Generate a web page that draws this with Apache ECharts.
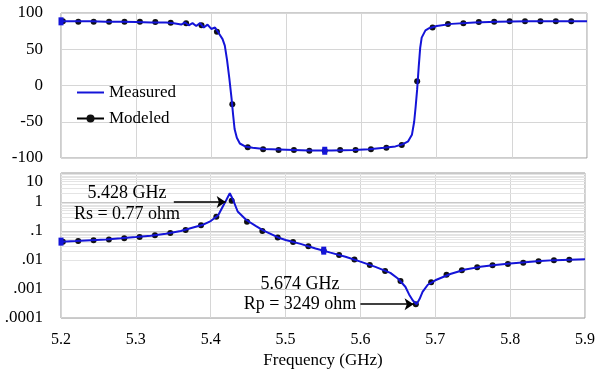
<!DOCTYPE html>
<html lang="en">
<head>
    <meta charset="UTF-8">
    <title>Impedance</title>
    <script src="https://cdn.jsdelivr.net/npm/echarts@6/dist/echarts.min.js"></script>
    <style>
        html, body { margin: 0; padding: 0; background: #fff; }
        #main { width: 598px; height: 374px; }
    </style>
</head>
<body>
<div id="main"></div>
<script type="text/javascript">
    // measured phase (deg)
    var measFreqPhase = [5.2, 5.22, 5.24, 5.26, 5.28, 5.3, 5.32, 5.34, 5.35, 5.36, 5.365, 5.37, 5.375, 5.38, 5.385, 5.39, 5.395, 5.4, 5.405, 5.41,
        5.415, 5.418, 5.421, 5.424, 5.427, 5.429, 5.431, 5.434, 5.438, 5.445, 5.455, 5.47, 5.5, 5.53, 5.56, 5.59, 5.61, 5.63, 5.645, 5.655,
        5.662, 5.667, 5.67, 5.672, 5.674, 5.676, 5.678, 5.68, 5.685, 5.69, 5.7, 5.72, 5.75, 5.78, 5.82, 5.86, 5.9];
    var measPhase = [88.5, 88.5, 88.5, 88, 88, 87.5, 87, 87, 86, 84, 87, 83, 86, 82, 86, 80, 84, 78, 80, 72,
        64, 55, 35, 10, -18, -40, -60, -72, -80, -84, -86, -87.5, -88.5, -89.5, -89.5, -89, -88, -86, -84, -81,
        -77, -68, -50, -29, -5, 25, 52, 66, 76, 79, 82, 85, 87, 88, 88.5, 88.5, 88.5];

    // measured |Z| (ohm, log axis)
    var measFreqMag = [5.2, 5.22, 5.24, 5.26, 5.28, 5.3, 5.32, 5.34, 5.36, 5.38, 5.39, 5.4, 5.41, 5.416, 5.421, 5.4255, 5.43, 5.436, 5.4476, 5.46,
        5.47, 5.48, 5.49, 5.5, 5.52, 5.54, 5.56, 5.58, 5.6, 5.62, 5.64, 5.65, 5.66, 5.665, 5.67, 5.675, 5.679, 5.683, 5.69, 5.7,
        5.72, 5.74, 5.76, 5.78, 5.8, 5.82, 5.84, 5.86, 5.88, 5.9];
    var measMag = [0.043, 0.045, 0.048, 0.051, 0.056, 0.062, 0.069, 0.08, 0.1, 0.14, 0.165, 0.22, 0.35, 0.69, 1.2, 2.0, 1.17, 0.47, 0.24, 0.15,
        0.105, 0.08, 0.06, 0.049, 0.036, 0.025, 0.018, 0.013, 0.0088, 0.0058, 0.0036, 0.0023, 0.0012, 0.00065, 0.0004, 0.0003, 0.00045, 0.0008, 0.0014, 0.002,
        0.0033, 0.0047, 0.0058, 0.0067, 0.0076, 0.0083, 0.0092, 0.0099, 0.0103, 0.0107];

    // modeled points
    var modelFreq = [5.2025, 5.223, 5.2435, 5.264, 5.2845, 5.305, 5.3255, 5.346, 5.3665, 5.387, 5.4075, 5.428, 5.4485, 5.469, 5.4895, 5.51, 5.5305,
        5.551, 5.5715, 5.592, 5.6125, 5.633, 5.6535, 5.674, 5.6945, 5.715, 5.7355, 5.756, 5.7765, 5.797, 5.8175, 5.838, 5.8585, 5.879];
    var modelPhase = [88.5, 88, 88, 88, 88, 88, 87.5, 86.5, 86, 83, 74, -26, -85, -88, -89, -89, -90,
        -90, -89, -89, -88, -86, -82, 6, 80, 85, 86, 87.5, 88, 88.5, 88.5, 88.5, 88.5, 88.5];
    var modelMag = [0.043, 0.045, 0.048, 0.051, 0.056, 0.062, 0.071, 0.085, 0.108, 0.158, 0.31, 1.1, 0.21, 0.10, 0.060, 0.042, 0.030,
        0.021, 0.015, 0.0105, 0.0067, 0.0042, 0.0019, 0.0003, 0.0017, 0.0031, 0.0044, 0.0056, 0.0066, 0.0073, 0.0081, 0.0090, 0.0098, 0.0102];

    var logLabels = { '-4': '.0001', '-3': '.001', '-2': '.01', '-1': '.1', '0': '1', '1': '10' };
    var decades = [0.0001, 0.001, 0.01, 0.1, 1];

    function pairs(xs, ys) {
        return xs.map(function (x, i) { return [x, ys[i]]; });
    }

    var minorLines = [];
    decades.forEach(function (d) {
        for (var m = 2; m <= 9; m++) minorLines.push({ yAxis: m * d });
    });

    var FONT = 'Liberation Serif';
    var BLUE = '#1414d8';
    var gridColor = '#d6d6d6';

    var myChart = echarts.init(document.getElementById('main'));

    var xBase = {
        type: 'value', min: 5.2, max: 5.9, interval: 0.1,
        axisLine: { show: false },
        axisTick: { show: false },
        splitLine: { show: true, lineStyle: { color: gridColor } }
    };

    // modeled: dots only on the plot, line kept for the legend icon
    var modeledBase = {
        name: 'Modeled', type: 'line', z: 3,
        symbol: 'circle', symbolSize: 6,
        itemStyle: { color: '#111' },
        lineStyle: { color: '#000', width: 1.5, opacity: 0 }
    };

    function annot(text, x, y) {
        return {
            type: 'text', z: 20, x: x, y: y,
            style: { text: text, font: '18px "Liberation Serif"', fill: '#000', align: 'center', verticalAlign: 'middle' }
        };
    }

    var option = {
        backgroundColor: '#fff',
        animation: false,
        textStyle: { fontFamily: FONT, color: '#000' },
        grid: [
            { left: 61, right: 11, top: 13, height: 145, show: true, borderColor: '#9a9a9a', borderWidth: 1 },
            { left: 61, right: 11, top: 173, height: 145, show: true, borderColor: '#9a9a9a', borderWidth: 1 }
        ],
        legend: {
            data: [
                { name: 'Measured', itemStyle: { opacity: 0 } },
                { name: 'Modeled', lineStyle: { color: '#000', width: 2, opacity: 1 } }
            ],
            orient: 'vertical',
            left: 76, top: 84, padding: 0,
            itemWidth: 27, itemHeight: 10, itemGap: 9,
            textStyle: { fontFamily: FONT, fontSize: 17, color: '#000' }
        },
        xAxis: [
            Object.assign({}, xBase, { gridIndex: 0, axisLabel: { show: false } }),
            Object.assign({}, xBase, {
                gridIndex: 1,
                name: 'Frequency (GHz)', nameLocation: 'middle', nameGap: 34,
                nameTextStyle: { fontFamily: FONT, fontSize: 17, color: '#000' },
                axisLabel: {
                    margin: 14, fontFamily: FONT, fontSize: 16, color: '#000',
                    formatter: function (v) { return v.toFixed(1); }
                }
            })
        ],
        yAxis: [
            {
                gridIndex: 0, type: 'value', min: -100, max: 100, interval: 50,
                axisLine: { show: false }, axisTick: { show: false },
                splitLine: { lineStyle: { color: gridColor } },
                axisLabel: { margin: 18, fontFamily: FONT, fontSize: 17, color: '#000' }
            },
            {
                gridIndex: 1, type: 'log', logBase: 10, min: 0.0001, max: 10,
                axisLine: { show: false }, axisTick: { show: false },
                splitLine: { lineStyle: { color: '#c8c8c8' } },
                axisLabel: {
                    margin: 18, fontFamily: FONT, fontSize: 17, color: '#000',
                    formatter: function (v) {
                        var k = Math.round(Math.log10(v));
                        if (k === 1) return '{t|10}';
                        return logLabels[k];
                    },
                    rich: { t: { fontFamily: FONT, fontSize: 17, color: '#000', padding: [18, 0, 0, 0] } }
                }
            }
        ],
        series: [
            Object.assign({}, modeledBase, { xAxisIndex: 0, yAxisIndex: 0, data: pairs(modelFreq, modelPhase) }),
            {
                name: 'Measured', type: 'line', xAxisIndex: 0, yAxisIndex: 0, z: 4,
                data: pairs(measFreqPhase, measPhase),
                symbol: 'none',
                itemStyle: { color: BLUE },
                lineStyle: { color: BLUE, width: 2 },
                markPoint: {
                    symbol: 'rect', symbolSize: [5, 8], silent: true,
                    itemStyle: { color: BLUE },
                    label: { show: false },
                    data: [{ coord: [5.2, 88.5] }, { coord: [5.551, -90] }]
                }
            },
            {
                name: 'minor', type: 'line', xAxisIndex: 1, yAxisIndex: 1, z: 1,
                data: [], silent: true,
                markLine: {
                    z: 1, silent: true, symbol: 'none', label: { show: false },
                    lineStyle: { color: '#e4e4e4', type: 'solid', width: 1 },
                    data: minorLines
                }
            },
            Object.assign({}, modeledBase, { xAxisIndex: 1, yAxisIndex: 1, data: pairs(modelFreq, modelMag) }),
            {
                name: 'Measured', type: 'line', xAxisIndex: 1, yAxisIndex: 1, z: 4,
                data: pairs(measFreqMag, measMag),
                symbol: 'none',
                itemStyle: { color: BLUE },
                lineStyle: { color: BLUE, width: 2 },
                markPoint: {
                    symbol: 'rect', symbolSize: [5, 8], silent: true,
                    itemStyle: { color: BLUE },
                    label: { show: false },
                    data: [{ coord: [5.2, 0.043] }, { coord: [5.551, 0.021] }]
                },
                markLine: {
                    silent: true,
                    symbol: ['none', 'arrow'], symbolSize: 9,
                    label: { show: false },
                    lineStyle: { color: '#000', type: 'solid', width: 1.5 },
                    data: [
                        [{ coord: [5.3507, 1.0] }, { coord: [5.42, 1.0] }],
                        [{ coord: [5.6, 0.0003] }, { coord: [5.671, 0.0003] }]
                    ]
                }
            }
        ],
        graphic: [
            annot('5.428 GHz', 127, 193),
            annot('Rs = 0.77 ohm', 127, 214),
            annot('5.674 GHz', 300, 284),
            annot('Rp = 3249 ohm', 300, 304)
        ]
    };
    myChart.setOption(option);
</script>
</body>
</html>
